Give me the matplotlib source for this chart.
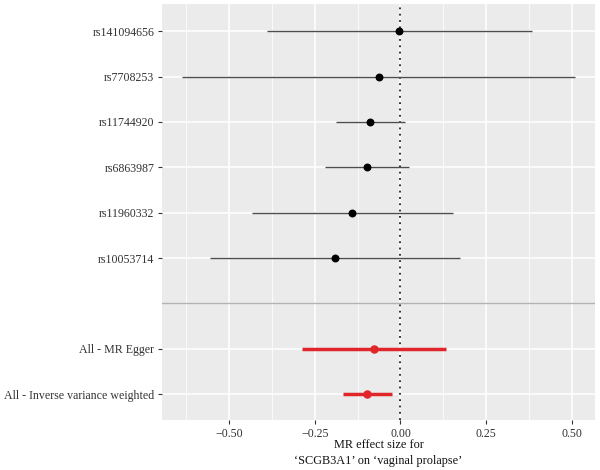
import matplotlib
matplotlib.use("Agg")
import matplotlib.pyplot as plt
from matplotlib.ticker import MultipleLocator

snps = ["rs141094656", "rs7708253", "rs11744920", "rs6863987", "rs11960332", "rs10053714"]
snp_b = [-0.003, -0.064, -0.089, -0.098, -0.140, -0.191]
snp_lo = [-0.389, -0.636, -0.189, -0.220, -0.432, -0.554]
snp_hi = [0.384, 0.510, 0.012, 0.025, 0.153, 0.173]

methods = ["All - MR Egger", "All - Inverse variance weighted"]
meth_b = [-0.076, -0.097]
meth_lo = [-0.286, -0.167]
meth_hi = [0.133, -0.025]

xticks = [-0.50, -0.25, 0.00, 0.25, 0.50]
xticklabels = ["\u22120.50", "\u22120.25", "0.00", "0.25", "0.50"]

plt.rcParams['font.family'] = ['Liberation Serif', 'DejaVu Serif']

fig = plt.figure(figsize=(6, 4.7), dpi=100)
ax = fig.add_axes([162/600, 1-420/470, (595-162)/600, (420-4)/470])
ax.set_facecolor("#EBEBEB")

n_snp = len(snps)
n_m = len(methods)
meth_y = list(range(n_m, 0, -1))
sep_y = n_m + 1
snp_y = list(range(n_m + 1 + n_snp, n_m + 1, -1))

ax.set_xlim(-0.695, 0.567)
ax.set_ylim(0.43, 9.6)
ax.set_xticks(xticks)
ax.set_xticklabels(xticklabels)
ax.xaxis.set_minor_locator(MultipleLocator(0.125))
ax.set_yticks(snp_y + meth_y)
ax.set_yticklabels(snps + methods)
ax.grid(which="major", color="white", linewidth=1.1)
ax.grid(which="minor", axis="x", color="white", linewidth=0.55)
ax.tick_params(axis="y", which="minor", left=False)
ax.tick_params(axis="x", which="minor", bottom=False)
ax.set_axisbelow(True)
for s in ax.spines.values():
    s.set_visible(False)
ax.tick_params(which="major", length=3, color="#333333", labelsize=8.6, labelcolor="#333333", pad=3)
ax.tick_params(axis="y", pad=2.5)

ax.axhline(sep_y, color="#b3b3b3", linewidth=1.0)
ax.axvline(0, color="#222222", linestyle=(0, (1, 2.5)), linewidth=1.3)

ax.hlines(snp_y, snp_lo, snp_hi, color="#4d4d4d", linewidth=1.0, zorder=3)
ax.scatter(snp_b, snp_y, color="black", s=22, zorder=4)

ax.hlines(meth_y, meth_lo, meth_hi, color="#E0262A", linewidth=2.5, zorder=3)
ax.scatter(meth_b, meth_y, color="#E0262A", s=26, zorder=4)

ax.set_xlabel("MR effect size for\n\u2018SCGB3A1\u2019 on \u2018vaginal prolapse\u2019", fontsize=8.8, color="#111111", labelpad=-1, linespacing=1.5)

fig.savefig("out.png", dpi=100)
